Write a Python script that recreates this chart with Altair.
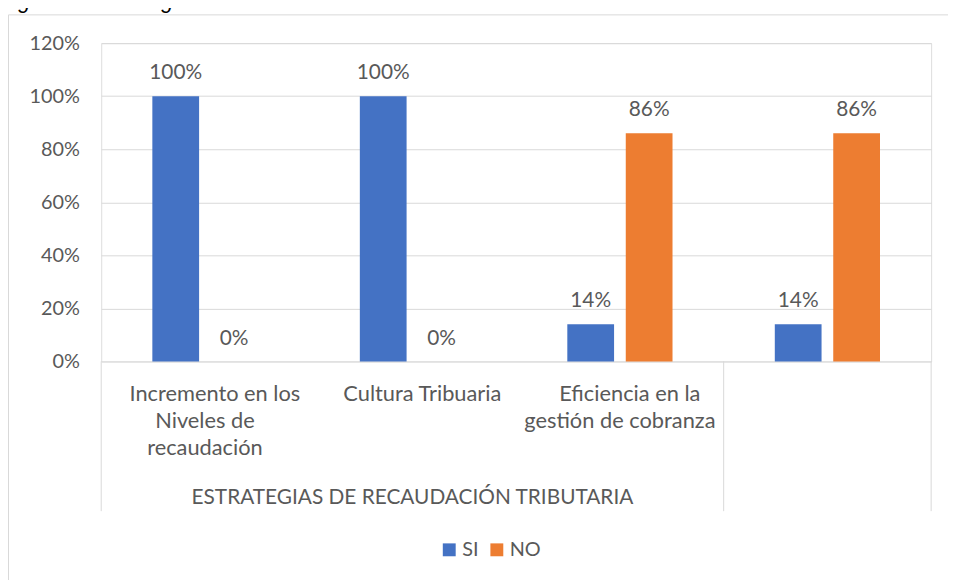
import altair as alt
import pandas as pd

# ---- data ----
categories = [
    "Incremento en los Niveles de recaudación",
    "Cultura Tribuaria",
    "Eficiencia en la gestión de cobranza",
    " ",
]
label_first = ["Incremento en los", "Cultura Tribuaria", "Eficiencia en la", ""]
label_rest = ["Niveles de\nrecaudación", "", "gestión de cobranza", ""]
series = ["SI", "NO"]
si_values = [1.00, 1.00, 0.14, 0.14]
no_values = [0.00, 0.00, 0.86, 0.86]
group_label = "ESTRATEGIAS DE RECAUDACIÓN TRIBUTARIA"
y_ticks = [0, 0.2, 0.4, 0.6, 0.8, 1.0, 1.2]
title_text = "Figura 9.        Estrategias de la Recaudación Tributaria."

colors = ["#4472C4", "#ED7D31"]
FONT = "Lato"
TXT = "#595959"
GRID = "#D9D9D9"

rows = []
for c, s, n in zip(categories, si_values, no_values):
    rows.append({"cat": c, "serie": "SI", "value": s})
    rows.append({"cat": c, "serie": "NO", "value": n})
df = pd.DataFrame(rows)

labels_df = pd.DataFrame({"cat": categories, "first": label_first, "rest": label_rest})

xscale = alt.Scale(domain=categories, paddingInner=0, paddingOuter=0)
yscale = alt.Scale(domain=[0, 1.2], nice=False, zero=True)
X = alt.X("cat:N", sort=categories, scale=xscale, axis=None)
XO = alt.XOffset("serie:N", sort=series,
                 scale=alt.Scale(domain=series, paddingInner=0.2, paddingOuter=0.875))

bars = alt.Chart(df).mark_bar().encode(
    x=X,
    xOffset=XO,
    y=alt.Y("value:Q", scale=yscale,
            axis=alt.Axis(values=y_ticks, format=".0%", grid=True, gridColor=GRID,
                          gridWidth=1, domain=False, ticks=False, labelFontSize=20,
                          labelColor=TXT, labelFont=FONT, labelPadding=22, title=None)),
    color=alt.Color("serie:N", sort=series,
                    scale=alt.Scale(domain=series, range=colors),
                    legend=alt.Legend(title=None, orient="none", legendX=341, legendY=501,
                                      direction="horizontal", symbolType="square",
                                      symbolSize=169, symbolStrokeWidth=0,
                                      labelFontSize=20, labelFont=FONT, labelColor=TXT,
                                      labelOffset=3, columnPadding=8, padding=0)),
)

value_labels = alt.Chart(df).mark_text(
    baseline="alphabetic", dy=-17, fontSize=21, font=FONT, color=TXT
).encode(
    x=X,
    xOffset=XO,
    y=alt.Y("value:Q", scale=yscale),
    text=alt.Text("value:Q", format=".0%"),
)

sep_left = alt.Chart(pd.DataFrame({"cat": [categories[0], categories[3]]})).mark_rule(
    color=GRID, strokeWidth=1
).encode(
    x=alt.X("cat:N", sort=categories, scale=xscale, axis=None, bandPosition=0),
    y=alt.value(321), y2=alt.value(472),
)
sep_right = alt.Chart(pd.DataFrame({"cat": [categories[3]]})).mark_rule(
    color=GRID, strokeWidth=1
).encode(
    x=alt.X("cat:N", sort=categories, scale=xscale, axis=None, bandPosition=1),
    y=alt.value(321), y2=alt.value(472),
)

cat_first = alt.Chart(labels_df).mark_text(
    baseline="alphabetic", dx=10, fontSize=22, font=FONT, color=TXT
).encode(x=X, y=alt.value(361), text="first:N")

cat_rest = alt.Chart(labels_df).mark_text(
    baseline="alphabetic", fontSize=22, font=FONT, color=TXT, lineBreak="\n", lineHeight=27
).encode(x=X, y=alt.value(388), text="rest:N")

group = alt.Chart(pd.DataFrame({"cat": [categories[1]], "t": [group_label]})).mark_text(
    baseline="alphabetic", fontSize=21, font=FONT, color=TXT
).encode(x=X, y=alt.value(465), text="t:N")

one = pd.DataFrame({"t": [title_text]})
border_top = alt.Chart(one).mark_rule(color=GRID, strokeWidth=1).encode(
    x=alt.value(-93.5), x2=alt.value(900), y=alt.value(-28.5))
border_left = alt.Chart(one).mark_rule(color=GRID, strokeWidth=1).encode(
    x=alt.value(-93.5), y=alt.value(-28.5), y2=alt.value(600))
title = alt.Chart(one).mark_text(
    align="left", baseline="alphabetic", fontSize=22, font="Liberation Sans",
    fontStyle="italic", color="#000000"
).encode(x=alt.value(-102), y=alt.value(-35), text="t:N")

chart = alt.layer(
    bars, value_labels, sep_left, sep_right, cat_first, cat_rest, group,
    border_top, border_left, title
).properties(
    width=837, height=321,
    padding={"left": 94, "top": 33, "right": 17, "bottom": 218},
    autosize=alt.AutoSizeParams(type="none"),
).configure_view(stroke=None).configure(background="white")

chart.save("out.html", embed_options={"renderer": "svg", "actions": False})
